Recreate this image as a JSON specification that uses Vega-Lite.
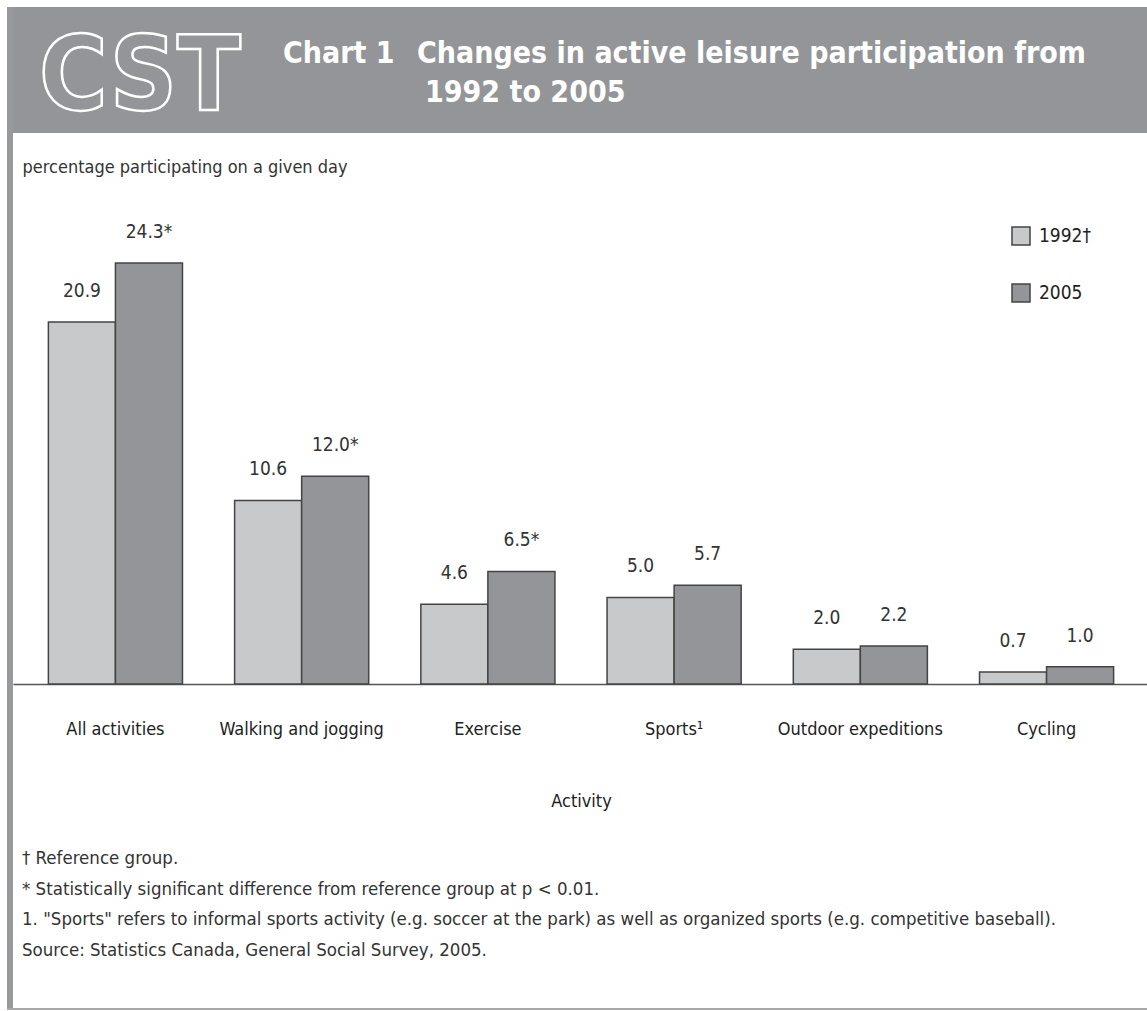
{
  "$schema": "https://vega.github.io/schema/vega-lite/v6.json",
  "padding": {"left": 7, "top": 7, "right": 0, "bottom": 0},
  "background": "white",
  "spacing": 0,
  "config": {
    "view": {"stroke": null},
    "font": "DejaVu Sans Condensed",
    "concat": {"spacing": 0}
  },
  "vconcat": [
    {
      "spacing": 0,
      "hconcat": [
        {
          "width": 6,
          "height": 1001,
          "view": {"fill": "#98999c", "stroke": null},
          "data": {"values": [{}]},
          "mark": {"type": "text", "text": "", "fontSize": 0, "baseline": "top"},
          "encoding": {}
        },
        {
          "spacing": 25,
          "vconcat": [
            {
              "width": 1134,
              "height": 126,
              "view": {"fill": "#939598", "stroke": null},
              "data": {"values": [{}]},
              "layer": [
                {
                  "mark": {"type": "text", "text": "CST", "align": "center", "baseline": "alphabetic", "fontSize": 104, "fontWeight": "bold", "font": "DejaVu Sans Condensed", "fill": "#939598", "stroke": "white", "strokeWidth": 2.5},
                  "encoding": {"x": {"value": 127}, "y": {"value": 103}}
                },
                {
                  "mark": {"type": "text", "text": "Chart 1", "align": "left", "baseline": "alphabetic", "fontSize": 30, "fontWeight": "bold", "color": "white"},
                  "encoding": {"x": {"value": 270}, "y": {"value": 56}}
                },
                {
                  "mark": {"type": "text", "text": "Changes in active leisure participation from", "align": "left", "baseline": "alphabetic", "fontSize": 30, "fontWeight": "bold", "color": "white"},
                  "encoding": {"x": {"value": 404}, "y": {"value": 56}}
                },
                {
                  "mark": {"type": "text", "text": "1992 to 2005", "align": "left", "baseline": "alphabetic", "fontSize": 30, "fontWeight": "bold", "color": "white"},
                  "encoding": {"x": {"value": 412}, "y": {"value": 95}}
                }
              ]
            },
            {
              "width": 1136,
              "height": 485,
              "title": {
                "text": [
                  "† Reference group.",
                  "* Statistically significant difference from reference group at p < 0.01.",
                  "1. \"Sports\" refers to informal sports activity (e.g. soccer at the park) as well as organized sports (e.g. competitive baseball).",
                  "Source: Statistics Canada, General Social Survey, 2005."
                ],
                "orient": "bottom",
                "anchor": "start",
                "frame": "group",
                "dx": 9,
                "offset": 39,
                "fontSize": 18.5,
                "fontWeight": "normal",
                "lineHeight": 30.5,
                "color": "#333333"
              },
              "data": {
                "values": [
                  {"activity": "All activities", "year": "1992", "value": 20.9, "label": "20.9"},
                  {"activity": "All activities", "year": "2005", "value": 24.3, "label": "24.3*"},
                  {"activity": "Walking and jogging", "year": "1992", "value": 10.6, "label": "10.6"},
                  {"activity": "Walking and jogging", "year": "2005", "value": 12.0, "label": "12.0*"},
                  {"activity": "Exercise", "year": "1992", "value": 4.6, "label": "4.6"},
                  {"activity": "Exercise", "year": "2005", "value": 6.5, "label": "6.5*"},
                  {"activity": "Sports¹", "year": "1992", "value": 5.0, "label": "5.0"},
                  {"activity": "Sports¹", "year": "2005", "value": 5.7, "label": "5.7"},
                  {"activity": "Outdoor expeditions", "year": "1992", "value": 2.0, "label": "2.0"},
                  {"activity": "Outdoor expeditions", "year": "2005", "value": 2.2, "label": "2.2"},
                  {"activity": "Cycling", "year": "1992", "value": 0.7, "label": "0.7"},
                  {"activity": "Cycling", "year": "2005", "value": 1.0, "label": "1.0"}
                ]
              },
              "encoding": {
                "x": {
                  "field": "activity",
                  "type": "nominal",
                  "sort": null,
                  "scale": {"paddingInner": 0.28, "paddingOuter": 0.19},
                  "axis": {
                    "title": "Activity",
                    "labelAngle": 0,
                    "labelFontSize": 18,
                    "labelColor": "#222222",
                    "labelPadding": 36,
                    "ticks": false,
                    "domainColor": "#555555",
                    "domainWidth": 1.5,
                    "titleFontSize": 18,
                    "titleFontWeight": "normal",
                    "titleColor": "#222222",
                    "titlePadding": 54
                  }
                },
                "xOffset": {
                  "field": "year",
                  "type": "nominal",
                  "scale": {"paddingInner": 0, "paddingOuter": 0}
                },
                "y": {
                  "field": "value",
                  "type": "quantitative",
                  "scale": {"domain": [0, 28], "nice": false},
                  "axis": {
                    "title": "percentage participating on a given day",
                    "titleAngle": 0,
                    "titleAlign": "left",
                    "titleBaseline": "alphabetic",
                    "titleX": 9,
                    "titleY": -27,
                    "titleFontSize": 18,
                    "titleFontWeight": "normal",
                    "titleColor": "#333333",
                    "domain": false,
                    "ticks": false,
                    "labels": false,
                    "grid": false,
                    "minExtent": 0,
                    "maxExtent": 0
                  }
                }
              },
              "layer": [
                {
                  "mark": {"type": "bar", "stroke": "#444444", "strokeWidth": 1.5},
                  "encoding": {
                    "color": {
                      "field": "year",
                      "type": "nominal",
                      "scale": {"domain": ["1992", "2005"], "range": ["#c8c9cb", "#949598"]},
                      "legend": {
                        "orient": "none",
                        "legendX": 1004,
                        "legendY": 219,
                        "title": null,
                        "symbolType": "square",
                        "symbolSize": 324,
                        "symbolStrokeColor": "#444444",
                        "symbolStrokeWidth": 1.5,
                        "labelFontSize": 19,
                        "labelColor": "#222222",
                        "labelOffset": 8,
                        "rowPadding": 33,
                        "labelExpr": "datum.label == '1992' ? '1992†' : datum.label"
                      }
                    }
                  }
                },
                {
                  "mark": {"type": "text", "baseline": "alphabetic", "dy": -25, "fontSize": 19, "color": "#333333"},
                  "encoding": {"text": {"field": "label"}}
                }
              ]
            }
          ]
        }
      ]
    },
    {
      "width": 1140,
      "height": 2,
      "view": {"fill": "#a8a8aa", "stroke": null},
      "data": {"values": [{}]},
      "mark": {"type": "text", "text": "", "fontSize": 0, "baseline": "top"},
      "encoding": {}
    }
  ]
}
